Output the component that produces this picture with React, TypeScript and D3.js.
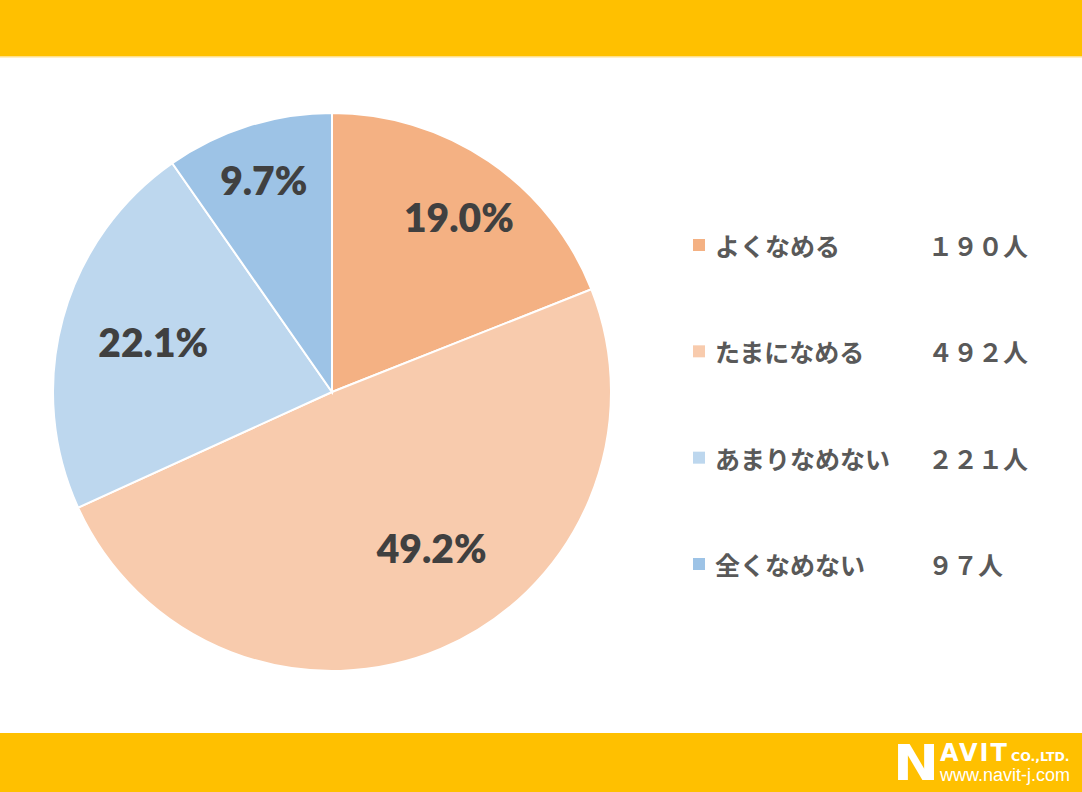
import React from 'react';
import * as d3 from 'd3';

// survey answers, clockwise from 12 o'clock
const categories = ['よくなめる', 'たまになめる', 'あまりなめない', '全くなめない'];
const counts = [190, 492, 221, 97];
const percentLabels = ['19.0%', '49.2%', '22.1%', '9.7%'];
const countLabels = ['１９０人', '４９２人', '２２１人', '９７人'];
const colors = ['#F4B183', '#F8CBAD', '#BDD7EE', '#9DC3E6'];

const W = 1082;
const H = 792;
const cx = 332;
const cy = 392;
const R = 279;
// Excel's "best fit" nudges for the data labels
const labelNudge: [number, number][] = [
  [14, -9],
  [21, -29],
  [15, 3],
  [-8, -20],
];

const App: React.FC = () => {
  const pie = d3
    .pie<number>()
    .sort(null)
    .value(d => d);
  const arcs = pie(counts);
  const arc = d3.arc<d3.PieArcDatum<number>>().innerRadius(0).outerRadius(R);
  const labelArc = d3
    .arc<d3.PieArcDatum<number>>()
    .innerRadius(R * 0.72)
    .outerRadius(R * 0.72);

  const legendY = d3
    .scalePoint<string>()
    .domain(categories)
    .range([245, 564]);

  return (
    <div style={{ position: 'fixed', left: 0, top: 0, width: W, height: H, background: '#fff' }}>
      <svg width={W} height={H} style={{ display: 'block' }}>
        <rect x={0} y={0} width={W} height={H} fill="#fff" />
        <rect x={0} y={0} width={W} height={56} fill="#FFC000" />
        <rect x={0} y={56} width={W} height={1.5} fill="#FFE08A" />
        <rect x={0} y={733} width={W} height={H - 733} fill="#FFC000" />

        <g transform={`translate(${cx},${cy})`}>
          {arcs.map((a, i) => (
            <path key={i} d={arc(a) || ''} fill={colors[i]} stroke="#fff" strokeWidth={2} />
          ))}
          {arcs.map((a, i) => {
            const [x, y] = labelArc.centroid(a);
            return (
              <text
                key={i}
                x={x + labelNudge[i][0]}
                y={y + labelNudge[i][1]}
                textAnchor="middle"
                dominantBaseline="central"
                fontFamily="Lato, 'Open Sans', sans-serif"
                fontWeight={800}
                fontSize={39}
                fill="#404040"
              >
                {percentLabels[i]}
              </text>
            );
          })}
        </g>

        <g fontFamily="'Noto Sans CJK JP', sans-serif" fontSize={25} fontWeight={700} fill="#595959">
          {categories.map((c, i) => {
            const y = legendY(c) as number;
            return (
              <g key={c}>
                <rect x={693} y={y - 6} width={12} height={12} fill={colors[i]} />
                <text x={715} y={y} dominantBaseline="central">
                  {c}
                </text>
                <text x={928} y={y} dominantBaseline="central">
                  {countLabels[i]}
                </text>
              </g>
            );
          })}
        </g>

        {/* logo */}
        <g fill="#fff" fontFamily="'DejaVu Sans', sans-serif" fontWeight={700}>
          <text x={0} y={0} fontSize={50} transform="translate(893,780) scale(1.1,1)">
            N
          </text>
          <text x={940} y={761} fontSize={24} letterSpacing={2}>
            AVIT
          </text>
          <text x={1011} y={761} fontSize={12.5}>
            CO.,LTD.
          </text>
          <text x={940} y={781} fontSize={18} fontWeight={400} fontFamily="'Liberation Sans', Arial, sans-serif">
            www.navit-j.com
          </text>
        </g>
      </svg>
    </div>
  );
};

export default App;
